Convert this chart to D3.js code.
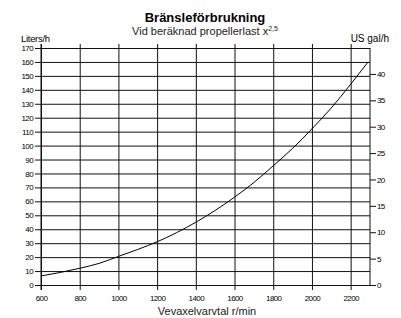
<!DOCTYPE html>
<html lang="sv">
<head>
<meta charset="UTF-8">
<title>Bränsleförbrukning</title>
<style>
  body { margin: 0; background: #fff; }
  svg { display: block; font-family: 'Liberation Sans', Arial, sans-serif; }
</style>
</head>
<body>
<svg width="401" height="318"></svg>
<script src="https://d3js.org/d3.v7.min.js"></script>
<script>
// values
const rpm    = [600, 700, 800, 900, 1000, 1100, 1200, 1300, 1400, 1500, 1600, 1700, 1800, 1900, 2000, 2100, 2200, 2290];
const liters = [6.5, 9, 12, 15.5, 20.5, 25.5, 31, 37.5, 45, 53.5, 63, 73.5, 85.5, 98, 112, 127, 144, 160];
const xTicks = [600, 800, 1000, 1200, 1400, 1600, 1800, 2000, 2200];
const literTicks = d3.range(0, 171, 10);
const gallonTicks = [0, 5, 10, 15, 20, 25, 30, 35, 40];
const LITERS_PER_GALLON = 3.785;

const svg = d3.select("svg");
const m = { left: 41, right: 370, top: 48, bottom: 285 };

const x = d3.scaleLinear().domain([600, 2300]).range([m.left, m.right]);
const y = d3.scaleLinear().domain([0, 170]).range([m.bottom, m.top]);
const yGal = d3.scaleLinear().domain([0, 170 / LITERS_PER_GALLON]).range([m.bottom, m.top]);

// horizontal grid + left ticks
svg.append("g")
  .attr("transform", `translate(${m.left},0)`)
  .call(d3.axisLeft(y).tickValues(literTicks).tickSizeInner(-(m.right - m.left)).tickSizeOuter(0).tickPadding(2))
  .call(g => g.select(".domain").remove())
  .call(g => g.selectAll(".tick line").attr("x1", -6).attr("stroke", "#111"))
  .call(g => g.selectAll("text").attr("font-size", 8).attr("letter-spacing", -0.6).attr("fill", "#000").attr("x", -8));

// vertical grid + bottom ticks
svg.append("g")
  .attr("transform", `translate(0,${m.bottom})`)
  .call(d3.axisBottom(x).tickValues(xTicks).tickFormat(d3.format("d")).tickPadding(4))
  .call(g => g.select(".domain").remove())
  .call(g => g.selectAll(".tick line").attr("y1", 5).attr("y2", -(m.bottom - m.top) - 4).attr("stroke", "#111"))
  .call(g => g.selectAll("text").attr("font-size", 8).attr("letter-spacing", -0.6).attr("fill", "#000"));

// frame lines
svg.append("line").attr("x1", m.left).attr("x2", m.left).attr("y1", m.top - 4).attr("y2", m.bottom + 5).attr("stroke", "#111");
svg.append("line").attr("x1", m.right).attr("x2", m.right).attr("y1", m.top).attr("y2", m.bottom).attr("stroke", "#111");

// right gallon axis
svg.append("g")
  .attr("transform", `translate(${m.right},0)`)
  .call(d3.axisRight(yGal).tickValues(gallonTicks).tickSize(6).tickPadding(1))
  .call(g => g.select(".domain").remove())
  .call(g => g.selectAll(".tick line").attr("stroke", "#111"))
  .call(g => g.selectAll("text").attr("font-size", 8).attr("letter-spacing", -0.6).attr("fill", "#000"));

// curve
svg.append("path")
  .datum(rpm.map((r, i) => [r, liters[i]]))
  .attr("fill", "none")
  .attr("stroke", "#000")
  .attr("stroke-width", 1)
  .attr("d", d3.line().x(d => x(d[0])).y(d => y(d[1])).curve(d3.curveMonotoneX));

// titles
svg.append("text").attr("x", 205).attr("y", 22).attr("text-anchor", "middle")
  .attr("font-size", 13).attr("font-weight", "bold").text("Bränsleförbrukning");
const sub = svg.append("text").attr("x", 205).attr("y", 35).attr("text-anchor", "middle")
  .attr("font-size", 11).attr("fill", "#222");
sub.append("tspan").text("Vid beräknad propellerlast x");
sub.append("tspan").attr("font-size", 7).attr("dy", -4).text("2,5");

svg.append("text").attr("x", 21).attr("y", 41.5).attr("font-size", 9.5).attr("letter-spacing", -0.3).text("Liters/h");
svg.append("text").attr("x", 389).attr("y", 41.5).attr("text-anchor", "end").attr("font-size", 10).text("US gal/h");
svg.append("text").attr("x", 207).attr("y", 315).attr("text-anchor", "middle").attr("font-size", 11)
  .attr("fill", "#222").text("Vevaxelvarvtal r/min");
</script>
</body>
</html>
